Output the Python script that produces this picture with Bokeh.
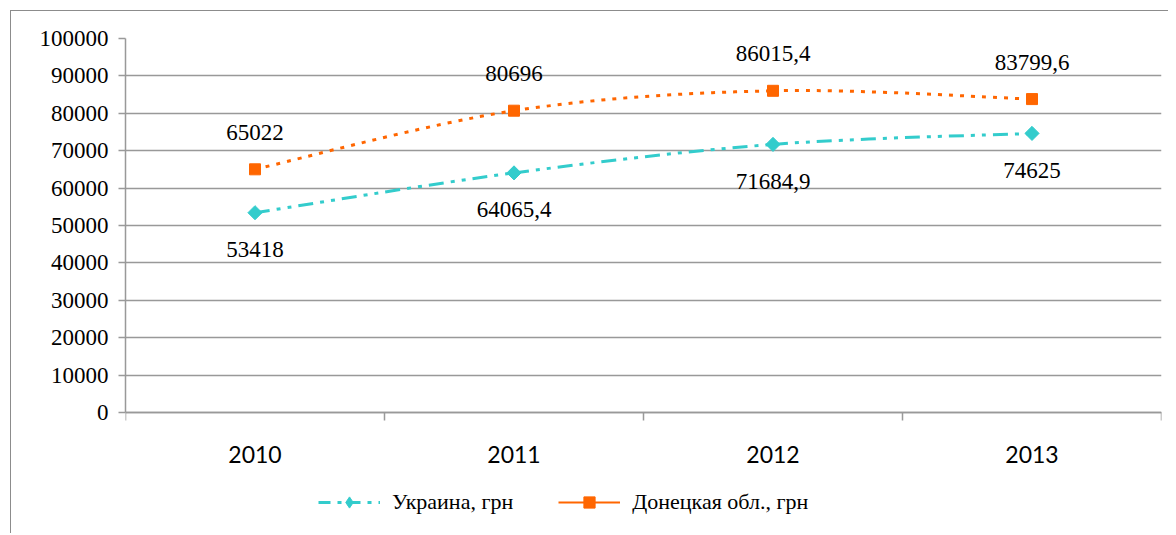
from bokeh.plotting import figure
from bokeh.models import (ColumnDataSource, Range1d, FixedTicker, Legend, LegendItem,
                          BasicTickFormatter)
from bokeh.core.properties import value
from bokeh.embed import file_html
from bokeh.resources import INLINE

# ---- data ----
years = [2010, 2011, 2012, 2013]
ukraine = [53418, 64065.4, 71684.9, 74625]
donetsk = [65022, 80696, 86015.4, 83799.6]
y_ticks = [0, 10000, 20000, 30000, 40000, 50000, 60000, 70000, 80000, 90000, 100000]
series_names = ["Украина, грн", "Донецкая обл., грн"]

TEAL = "#33CCCC"
ORANGE = "#FF6600"
GRID = "#999999"
SERIF = "'Liberation Serif', 'Times New Roman', serif"
SANS = "Lato, 'Liberation Sans', sans-serif"

# layout (pixels)
W, H = 1168, 533
FRAME_TOP, ZERO_PX = 38, 412
px_per_unit = (ZERO_PX - FRAME_TOP) / (y_ticks[-1] - y_ticks[0])
y_start = y_ticks[0] - (H - ZERO_PX) / px_per_unit
NAN = float("nan")


def fmt(v):
    return str(int(v)) if float(v).is_integer() else str(v).replace(".", ",")


def smooth_segments(xs, ys, t=1.0 / 6.0):
    n = len(xs)
    d = dict(x0=[], y0=[], x1=[], y1=[], cx0=[], cy0=[], cx1=[], cy1=[])
    for i in range(n - 1):
        i0, i3 = max(i - 1, 0), min(i + 2, n - 1)
        d["x0"].append(xs[i]); d["y0"].append(ys[i])
        d["x1"].append(xs[i + 1]); d["y1"].append(ys[i + 1])
        d["cx0"].append(xs[i] + (xs[i + 1] - xs[i0]) * t)
        d["cy0"].append(ys[i] + (ys[i + 1] - ys[i0]) * t)
        d["cx1"].append(xs[i + 1] - (xs[i3] - xs[i]) * t)
        d["cy1"].append(ys[i + 1] - (ys[i3] - ys[i]) * t)
    return ColumnDataSource(d)


p = figure(width=W, height=H, output_backend="svg", toolbar_location=None,
           x_range=Range1d(years[0] - 0.5, years[-1] + 0.5),
           y_range=Range1d(y_start, y_ticks[-1]),
           min_border_left=125, min_border_right=7, min_border_top=FRAME_TOP,
           min_border_bottom=0)
p.outline_line_color = None
p.background_fill_color = None
p.border_fill_color = None
# outer chart border (left and top edges visible)
p.styles = {
    "background": ("linear-gradient(#8c8c8c, #8c8c8c) 10px 10px / 1px 100% no-repeat, "
                   "linear-gradient(#8c8c8c, #8c8c8c) 10px 10px / 100% 1px no-repeat, white"),
}

# grid
p.xgrid.grid_line_color = None
p.ygrid.ticker = FixedTicker(ticks=y_ticks)
p.ygrid.grid_line_color = GRID
p.ygrid.grid_line_width = 1.5

# y axis
p.yaxis.ticker = FixedTicker(ticks=y_ticks)
p.yaxis.formatter = BasicTickFormatter(use_scientific=False)
p.yaxis.bounds = (y_ticks[0], y_ticks[-1])
p.yaxis.axis_line_color = GRID
p.yaxis.axis_line_width = 1.5
p.yaxis.major_tick_line_color = GRID
p.yaxis.major_tick_line_width = 1.5
p.yaxis.major_tick_out = 7
p.yaxis.major_tick_in = 0
p.yaxis.minor_tick_line_color = None
p.yaxis.major_label_standoff = 10
p.yaxis.major_label_text_font = SERIF
p.yaxis.major_label_text_font_size = "23px"
p.yaxis.major_label_text_color = "black"

# x axis (placed at y = 0)
bounds = [y - 0.5 for y in years] + [years[-1] + 0.5]
p.xaxis.fixed_location = y_ticks[0]
p.xaxis.ticker = FixedTicker(ticks=years, minor_ticks=bounds)
p.xaxis.formatter = BasicTickFormatter(use_scientific=False)
p.xaxis.axis_line_color = GRID
p.xaxis.axis_line_width = 1.5
p.xaxis.major_tick_line_color = None
p.xaxis.minor_tick_line_color = GRID
p.xaxis.minor_tick_line_width = 1.5
p.xaxis.minor_tick_out = 8
p.xaxis.minor_tick_in = 0
p.xaxis.major_label_standoff = 25
p.xaxis.major_label_text_font = SANS
p.xaxis.major_label_text_font_size = "23px"
p.xaxis.major_label_text_color = "black"

# smoothed lines
p.bezier(x0="x0", y0="y0", x1="x1", y1="y1", cx0="cx0", cy0="cy0", cx1="cx1", cy1="cy1",
         source=smooth_segments(years, ukraine), line_color=TEAL, line_width=3,
         line_dash="15 7 4 7 4 7")
p.bezier(x0="x0", y0="y0", x1="x1", y1="y1", cx0="cx0", cy0="cy0", cx1="cx1", cy1="cy1",
         source=smooth_segments(years, donetsk), line_color=ORANGE, line_width=3,
         line_dash="4 7")

# markers
p.scatter(years, ukraine, marker="square", angle=0.7854, size=10,
          fill_color=TEAL, line_color=TEAL)
dn_pts = p.scatter(years, donetsk, marker="square", size=11,
                   fill_color=ORANGE, line_color=ORANGE)

# data labels
p.text(years, ukraine, text=[fmt(v) for v in ukraine], y_offset=37,
       text_align="center", text_baseline="middle", text_font=value(SERIF),
       text_font_size="23px", text_color="black")
p.text(years, donetsk, text=[fmt(v) for v in donetsk], y_offset=-37,
       text_align="center", text_baseline="middle", text_font=value(SERIF),
       text_font_size="23px", text_color="black")

# legend proxies (styles as shown in the legend; nothing drawn in the plot)
ua_leg_line = p.line(x=[NAN], y=[NAN], line_color=TEAL, line_width=3, line_dash="12 7 4 7")
ua_leg_mark = p.scatter(x=[NAN], y=[NAN], marker="diamond",
                        fill_color=TEAL, line_color=TEAL)
dn_leg_line = p.line(x=[NAN], y=[NAN], line_color=ORANGE, line_width=2)

legend = Legend(items=[LegendItem(label=series_names[0], renderers=[ua_leg_line, ua_leg_mark]),
                       LegendItem(label=series_names[1], renderers=[dn_leg_line, dn_pts])],
                orientation="horizontal", location=(193, 17),
                border_line_color=None, background_fill_alpha=0,
                label_text_font=SERIF, label_text_font_size="22px",
                label_text_color="black", glyph_width=62, glyph_height=28,
                label_standoff=12, spacing=45, padding=0, margin=0)
p.add_layout(legend)

open("out.html", "w").write(file_html(p, INLINE))
